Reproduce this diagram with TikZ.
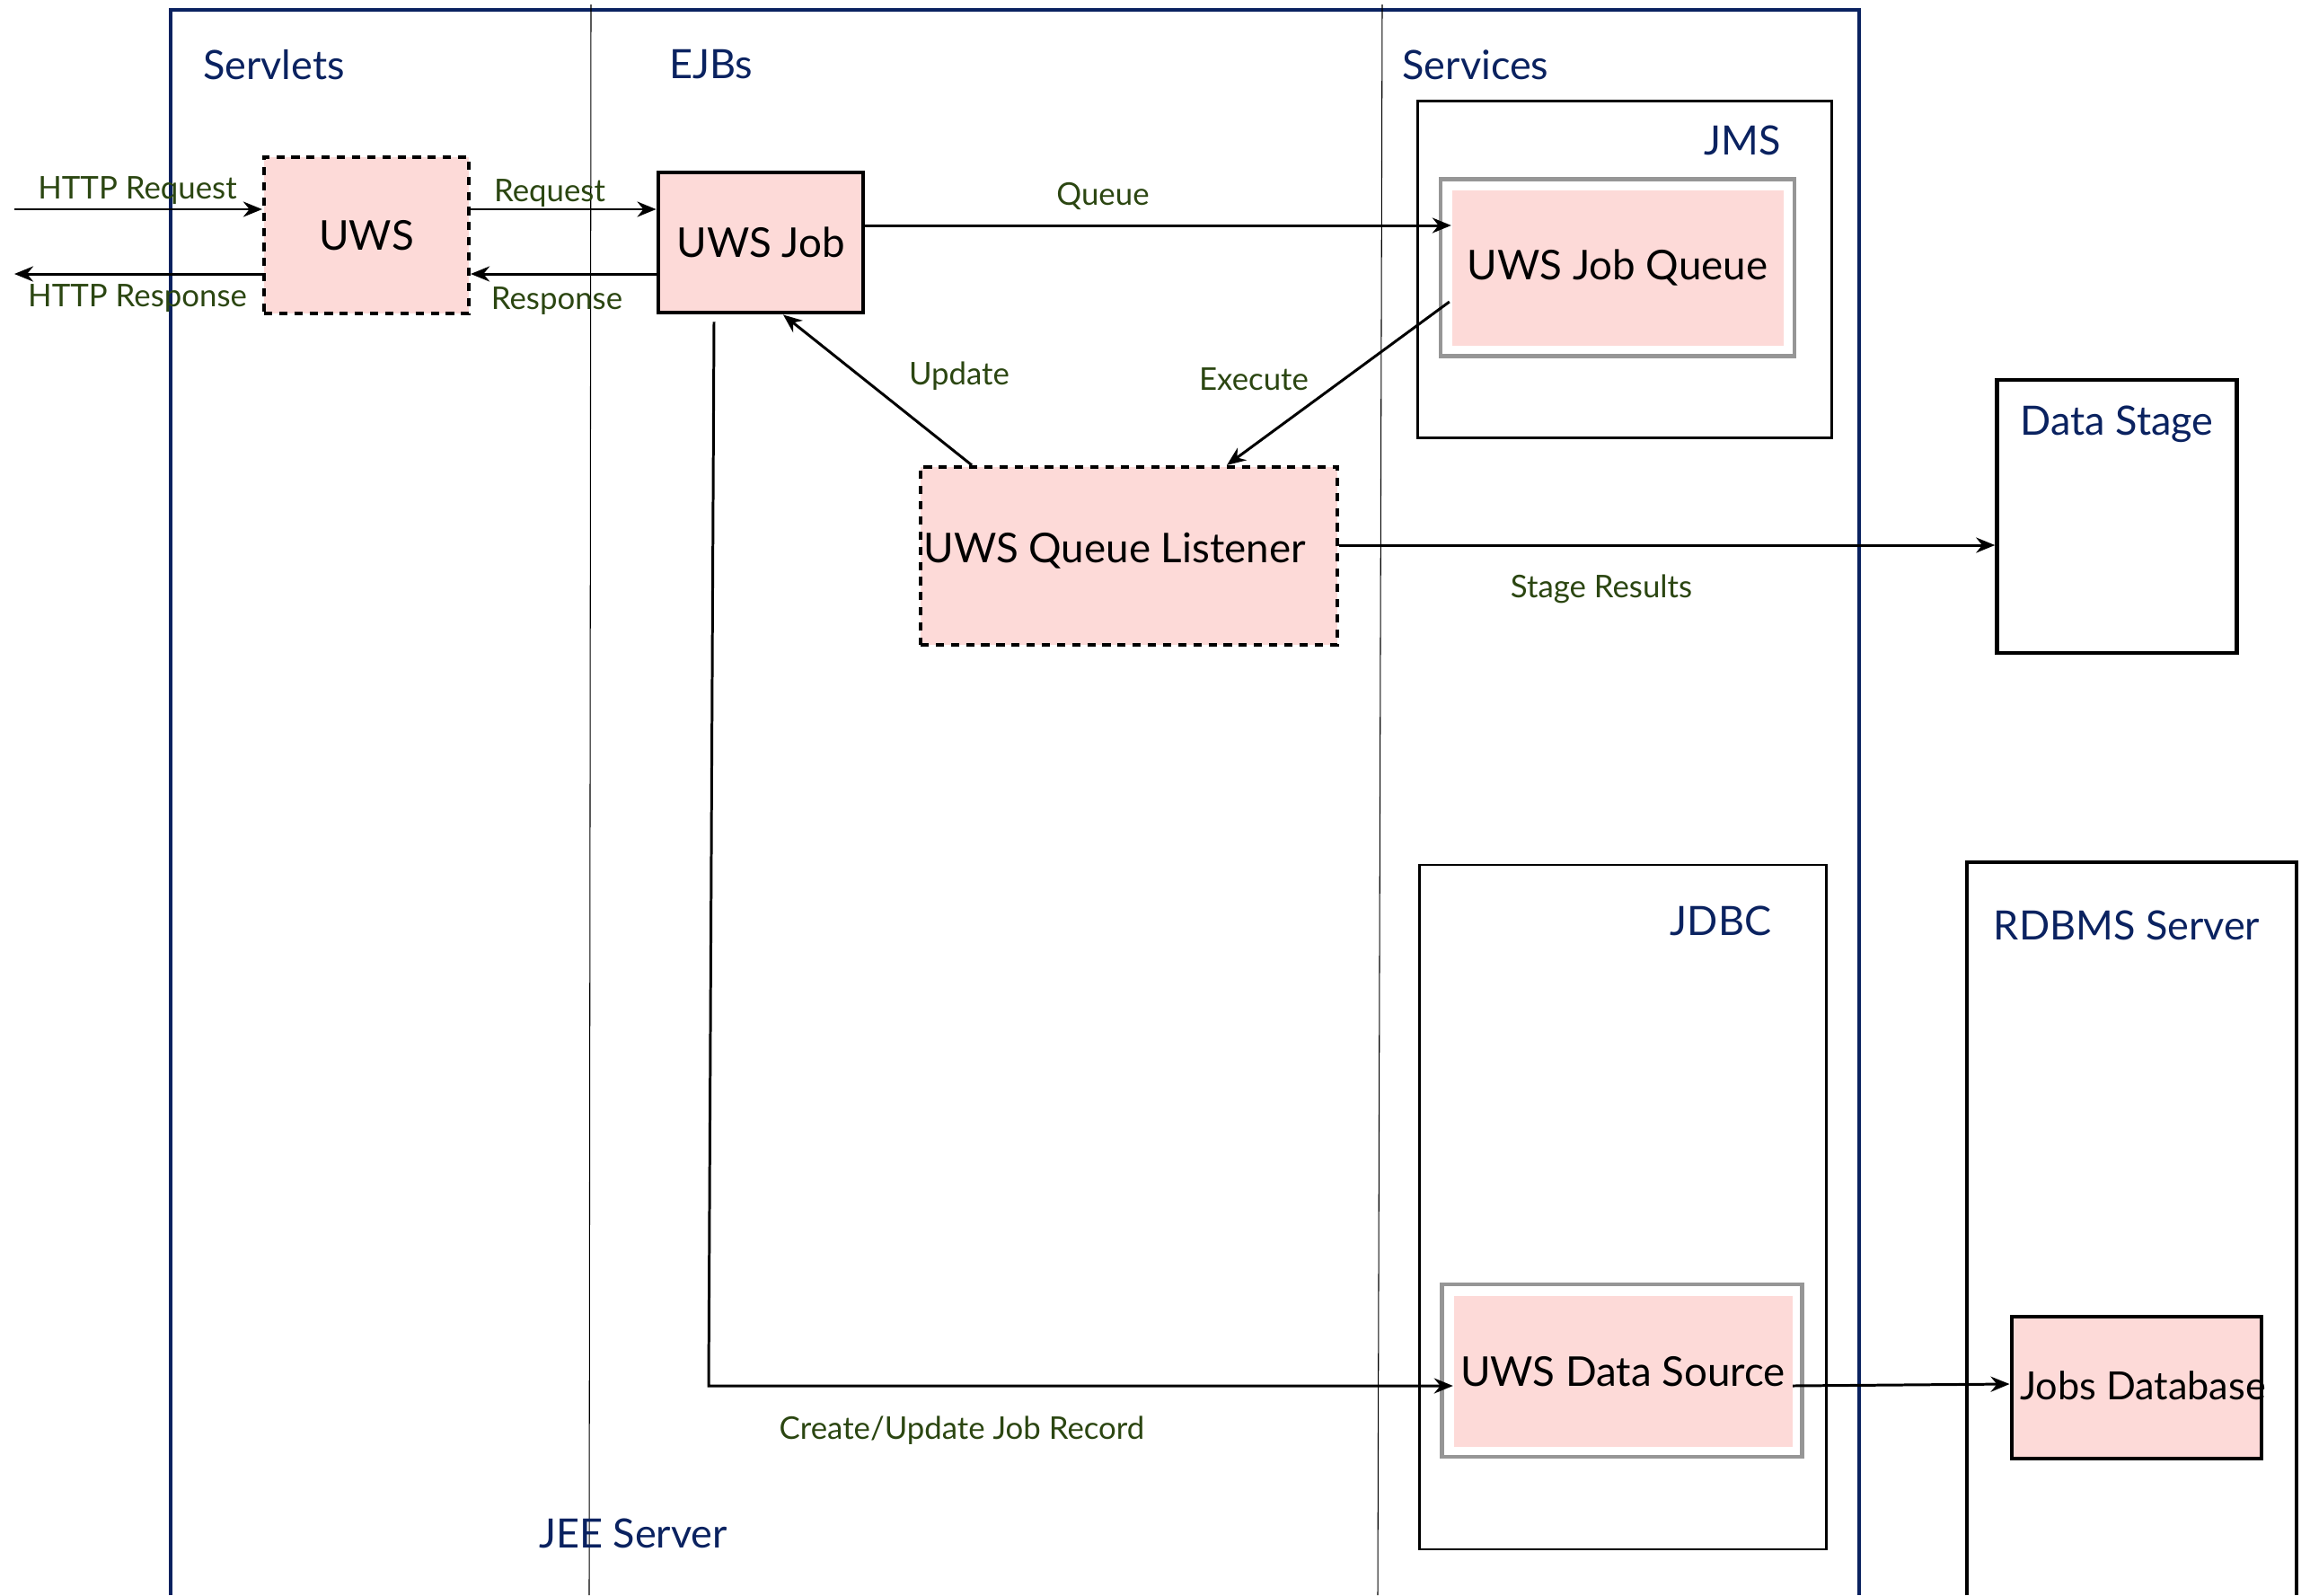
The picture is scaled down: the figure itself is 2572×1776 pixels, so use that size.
\documentclass[tikz,border=0pt]{standalone}
\usepackage{fontspec}
\setmainfont{Lato}
\usepackage{tikz}
\usetikzlibrary{positioning,calc,arrows.meta}
\definecolor{navy}{RGB}{10,34,96}
\definecolor{lblgreen}{RGB}{43,70,17}
\definecolor{boxpink}{RGB}{253,218,216}
\definecolor{rimgray}{RGB}{150,150,150}

\begin{document}
\begin{tikzpicture}[x=0.1mm,y=-0.1mm,
        pinkbox/.style={draw,fill=boxpink,line width=1.4pt,inner sep=0pt,font=\fontsize{13}{16}\selectfont},
        dashbox/.style={pinkbox,line width=1.2pt,dash pattern=on 2.6pt off 2.2pt},
        frame/.style={draw,line width=0.8pt,inner sep=0pt},
        rim/.style={draw=rimgray,line width=1.2pt,inner sep=0pt},
        inner/.style={fill=boxpink,inner sep=0pt,font=\fontsize{13}{16}\selectfont},
        title/.style={text=navy,inner sep=0pt,font=\fontsize{12.8}{15}\selectfont},
        lbl/.style={text=lblgreen,inner sep=0pt,font=\fontsize{9.9}{12}\selectfont},
        arr/.style={-{Stealth[length=2.1mm,width=1.7mm]},line width=0.85pt}]
        \useasboundingbox (0,0) rectangle (2572,1776);

        \draw[navy,line width=1.1pt] (190,1776) -- (190,11) -- (2070,11) -- (2070,1776);
        \draw[line width=0.3pt] (658,5) -- (656,1776);
        \draw[line width=0.3pt] (1539,5) -- (1534,1776);
        \draw[frame,line width=1pt] (2190,1776) -- (2190,960) -- (2557,960) -- (2557,1776);

        \node[dashbox,minimum width=22.8mm,minimum height=17.4mm] (uws) at (408,262) {UWS};
        \node[pinkbox,minimum width=22.8mm,minimum height=15.6mm] (job) at (847,270) {UWS Job};
        \node[frame,minimum width=46.1mm,minimum height=37.5mm] (jms) at (1809,300) {};
        \node[rim,minimum width=39.4mm,minimum height=19.7mm] (queuerim) at (1801,298) {};
        \node[inner,minimum width=36.9mm,minimum height=17.3mm] (queue) at (1801,298) {UWS Job Queue};
        \node[dashbox,minimum width=46.4mm,minimum height=19.8mm] (listener) at (1257,619) {};
        \node[inner,fill=none] (listenertext) at (1241,613) {UWS Queue Listener};
        \node[frame,line width=1.3pt,minimum width=26.7mm,minimum height=30.4mm] (stage) at (2357,575) {};
        \node[frame,minimum width=45.3mm,minimum height=76.2mm] (jdbc) at (1807,1344) {};
        \node[rim,minimum width=40.1mm,minimum height=19.2mm] (sourcerim) at (1806,1526) {};
        \node[inner,minimum width=37.7mm,minimum height=16.8mm] (source) at (1807,1527) {UWS Data Source};
        \node[pinkbox,minimum width=27.8mm,minimum height=15.8mm] (jobsdb) at (2379,1545) {};
        \node[inner,fill=none,font=\fontsize{12.3}{15}\selectfont] (jobsdbtext) at (2386,1543) {Jobs Database};

        \node[title] (servlets) at (305,72) {Servlets};
        \node[title] (ejbs) at (792,72) {EJBs};
        \node[title] (services) at (1643,72) {Services};
        \node[title] (jee) at (705,1707) {JEE Server};
        \node[title] (jmstitle) at (1940,156) {JMS};
        \node[title] (jdbctitle) at (1916,1025) {JDBC};
        \node[title] (stagetitle) at (2357,472) {Data Stage};
        \node[title] (rdbmstitle) at (2368,1030) {RDBMS Server};

        \coordinate (httpin) at (16,233);
        \coordinate (httpout) at (16,305);
        \coordinate (q) at ($(job.east)+(0,-19)$);
        \coordinate (sr) at ($(listener.east)+(0,-12)$);
        \coordinate (corner) at (789,1543);

        \draw[arr] (httpin) -- (uws.west |- httpin);
        \draw[arr] (uws.west |- httpout) -- (httpout);
        \draw[arr] (uws.east |- httpin) -- (job.west |- httpin);
        \draw[arr] (job.west |- httpout) -- (uws.east |- httpout);
        \draw[arr] (q) -- (queue.west |- q);
        \draw[arr] ($(queue.west)+(-2,38)$) -- ($(listener.north)+(109,0)$);
        \draw[arr] ($(listener.north)+(-175,0)$) -- ($(job.south)+(25,0)$);
        \draw[arr] (sr) -- (stage.west |- sr);
        \draw[arr] ($(job.south)+(-52,8)$) -- (corner) -- (source.west |- corner);
        \draw[arr] ($(source.east)+(0,16)$) -- ($(jobsdb.west)+(0,-4)$);

        \node[lbl] (httpreq) at (153,212) {HTTP Request};
        \node[lbl] (httpresp) at (153,332) {HTTP Response};
        \node[lbl] (req) at (612,215) {Request};
        \node[lbl] (resp) at (620,335) {Response};
        \node[lbl] (queuelbl) at (1228,218) {Queue};
        \node[lbl] (execlbl) at (1396,422) {Execute};
        \node[lbl] (updlbl) at (1068,419) {Update};
        \node[lbl] (stagelbl) at (1783,656) {Stage Results};
        \node[lbl] (recordlbl) at (1071,1593) {Create/Update Job Record};
    \end{tikzpicture}
\end{document}
